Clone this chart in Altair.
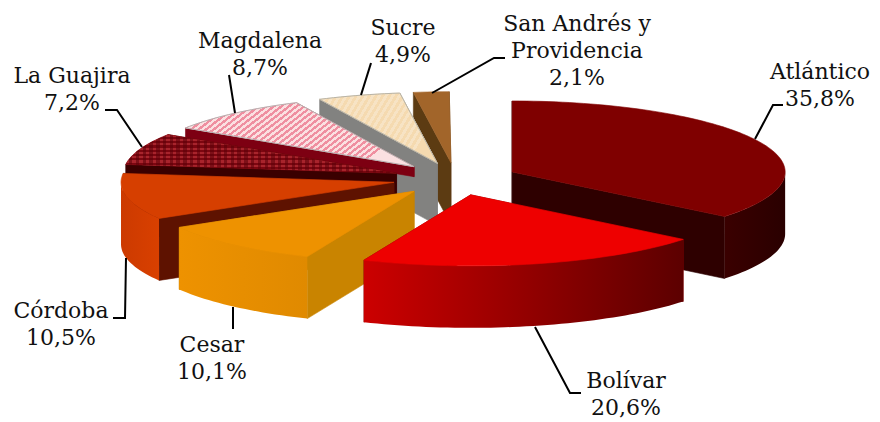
import math
import altair as alt

# --- data -------------------------------------------------------------
departments = ["Atlántico", "Bolívar", "Cesar", "Córdoba", "La Guajira", "Magdalena", "Sucre", "San Andrés y\nProvidencia"]
shares = [35.8, 20.6, 10.1, 10.5, 7.2, 8.7, 4.9, 2.1]

# --- styling ----------------------------------------------------------
top_colors = ["#7f0000", "#ee0000", "#ee9200", "#d63f00", "#8f0d15", "#f6c6cd", "#f6dfb8", "#a2652a"]
radial_colors = ["#2e0000", "#800000", "#c98400", "#5e1200", "#3a0000", "#7d0012", "#828280", "#5c3b12"]
outer_right = ["#2a0000", "#5c0000", "#e08a00", "#d94000", "#3a0000", "#7d0012", "#828280", "#5c3b12"]
outer_left = ["#3a0000", "#cc0000", "#ee9200", "#cc3a00", "#3a0000", "#7d0012", "#828280", "#5c3b12"]
depths = [62, 62, 62, 62, 62, 10, 62, 62]
draw_order = [7, 6, 5, 4, 0, 3, 2, 1]

label_x = [820, 626, 212, 61, 72, 260, 403, 577]
label_y = [79, 388, 352, 318, 83, 48, 35, 31]
line_gap = 27
leaders = [
    [(783, 105), (773, 105), (755, 139)],
    [(581, 393), (570, 393), (535, 327)],
    [(233, 307), (233, 329)],
    [(113, 318), (125, 318), (126, 258)],
    [(105, 110), (117, 110), (142, 147)],
    [(229, 75), (235, 113)],
    [(371, 63), (361, 95)],
    [(505, 58), (494, 58), (432, 93)],
]

CX, CY, RX, RY, EXPLODE = 455.5, 179.0, 273.0, 71.0, 0.23
FONT = "DejaVu Serif"
FONT_SIZE = 22


# --- geometry helpers: every slice is derived from its share ------------
def rim(cx, cy, deg, dy=0.0):
    a = math.radians(deg)
    return (cx + RX * math.sin(a), cy - RY * math.cos(a) + dy)


def geo(points):
    return [[x, -y] for x, y in points]


def poly(points, fill):
    ring = geo(points)
    ring.append(ring[0])
    return {"type": "Feature", "properties": {"fill": fill},
            "geometry": {"type": "Polygon", "coordinates": [ring]}}


def arc_deg(a0, a1):
    n = max(2, int((a1 - a0) / 1.5))
    return [a0 + (a1 - a0) * k / n for k in range(n + 1)]


def shapes_layer(features):
    return (alt.Chart(alt.InlineData(values=features)).mark_geoshape(strokeWidth=0.6)
            .encode(fill=alt.Fill("properties.fill:N", scale=None),
                    stroke=alt.Stroke("properties.fill:N", scale=None))
            .project(type="identity", reflectY=True, scale=1, translate=[-8, -8]))


def pattern_layer(feature, stops, x2, y2, stroke=None):
    mark = dict(fill=alt.LinearGradient(gradient="linear", stops=stops, x1=0, y1=0, x2=x2, y2=y2))
    if stroke:
        mark.update(stroke=stroke, strokeWidth=1)
    return (alt.Chart(alt.InlineData(values=[feature])).mark_geoshape(**mark)
            .project(type="identity", reflectY=True, scale=1, translate=[-8, -8]))


def bands(c0, c1, count, duty=0.5):
    stops = []
    for k in range(count):
        stops += [alt.GradientStop(offset=k / count, color=c0),
                  alt.GradientStop(offset=(k + duty) / count, color=c0),
                  alt.GradientStop(offset=(k + duty) / count, color=c1),
                  alt.GradientStop(offset=(k + 1) / count, color=c1)]
    return stops


# --- angles ---------------------------------------------------------------
starts, ends, acc = [], [], 0.0
for s in shares:
    starts.append(acc * 3.6)
    acc += s
    ends.append(acc * 3.6)

layers = []
for i in draw_order:
    a0, a1 = starts[i], ends[i]
    depth = depths[i]
    mid = math.radians((a0 + a1) / 2)
    ax = CX + EXPLODE * RX * math.sin(mid)
    ay = CY - EXPLODE * RY * math.cos(mid)

    feats = []
    radial_angles = [a1, a0] if (a0 + a1) / 2 > 180 else [a0, a1]
    for ang in radial_angles:
        r = rim(ax, ay, ang)
        feats.append(poly([(ax, ay), r, (r[0], r[1] + depth), (ax, ay + depth)], radial_colors[i]))
    layers.append(shapes_layer(feats))

    w0, w1 = max(a0, 90.0), min(a1, 270.0)
    if w1 > w0:
        deg = arc_deg(w0, w1)
        up = [rim(ax, ay, d) for d in deg]
        down = [rim(ax, ay, d, depth) for d in reversed(deg)]
        wall = poly(up + down, outer_left[i])
        layers.append(pattern_layer(wall, [alt.GradientStop(offset=0, color=outer_left[i]),
                                           alt.GradientStop(offset=1, color=outer_right[i])], 1, 0))

    top_pts = [(ax, ay)] + [rim(ax, ay, d) for d in arc_deg(a0, a1)]
    top = poly(top_pts, top_colors[i])
    layers.append(shapes_layer([top]))

    name = departments[i]
    if name == "Magdalena":
        layers.append(pattern_layer(top, bands("#ef8fa0", "#fbe0e1", 34), 1, 0.36, stroke="#b5b0b0"))
    elif name == "La Guajira":
        layers.append(pattern_layer(top, bands("#a8242c", "#7c0610", 9), 0, 1))
        layers.append(pattern_layer(top, bands("rgba(90,0,8,0)", "rgba(90,0,8,0.55)", 40), 1, 0))
    elif name == "Sucre":
        layers.append(pattern_layer(top, bands("#f7e3c4", "#f5dab0", 20), 1, 0.36, stroke="#b8b4a8"))

# --- leader lines ------------------------------------------------------------
leader_feats = [{"type": "Feature", "properties": {},
                 "geometry": {"type": "LineString", "coordinates": geo(pts)}} for pts in leaders]
layers.append(alt.Chart(alt.InlineData(values=leader_feats))
              .mark_geoshape(filled=False, stroke="#000000", strokeWidth=2)
              .project(type="identity", reflectY=True, scale=1, translate=[-8, -8]))

# --- labels --------------------------------------------------------------------
rows = []
for name, share, x, y in zip(departments, shares, label_x, label_y):
    lines = name.split("\n") + [f"{share:.1f}".replace(".", ",") + "%"]
    for k, txt in enumerate(lines):
        rows.append({"t": txt, "lon": x, "lat": -(y + k * line_gap)})
layers.append(alt.Chart(alt.InlineData(values=rows))
              .mark_text(font=FONT, fontSize=FONT_SIZE, align="center", baseline="alphabetic", color="#111111")
              .encode(longitude="lon:Q", latitude="lat:Q", text="t:N")
              .project(type="identity", reflectY=True, scale=1, translate=[-8, -8]))

chart = (alt.layer(*layers)
         .properties(width=864, height=414, padding=0, autosize="none", background="white")
         .configure_view(stroke=None))
chart.save("out.html", embed_options={"renderer": "svg", "actions": False})
